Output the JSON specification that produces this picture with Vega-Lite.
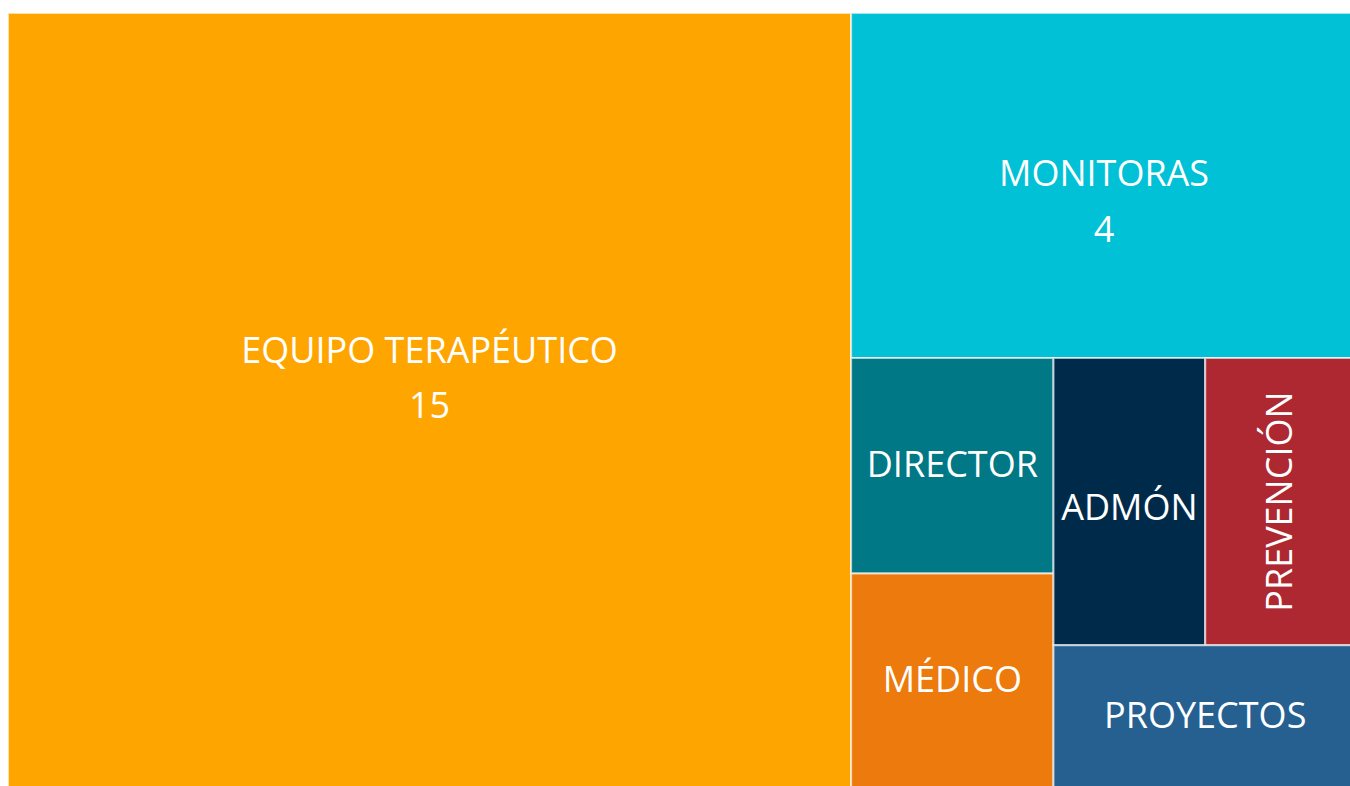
{
  "$schema": "https://vega.github.io/schema/vega-lite/v6.json",
  "width": 1349,
  "height": 776,
  "autosize": "none",
  "padding": {"left": 8, "top": 13, "right": 0, "bottom": 0},
  "background": "white",
  "view": {"stroke": null},
  "config": {"text": {"font": "Open Sans", "fontSize": 36, "color": "#ffffff", "align": "center", "baseline": "middle"}},
  "data": {
    "values": [
      {"name": "EQUIPO TERAPÉUTICO", "value": 15, "p1": "A", "p2": "A", "p3": "A", "p4": "A", "p5": "A"},
      {"name": "MONITORAS", "value": 4, "p1": "B", "p2": "B1", "p3": "B1", "p4": "B1", "p5": "B1"},
      {"name": "DIRECTOR", "value": 1, "p1": "B", "p2": "B2", "p3": "B2a", "p4": "B2a1", "p5": "B2a1"},
      {"name": "MÉDICO", "value": 1, "p1": "B", "p2": "B2", "p3": "B2a", "p4": "B2a2", "p5": "B2a2"},
      {"name": "ADMÓN", "value": 1, "p1": "B", "p2": "B2", "p3": "B2b", "p4": "B2b1", "p5": "B2b1a"},
      {"name": "PREVENCIÓN", "value": 1, "p1": "B", "p2": "B2", "p3": "B2b", "p4": "B2b1", "p5": "B2b1b"},
      {"name": "PROYECTOS", "value": 1, "p1": "B", "p2": "B2", "p3": "B2b", "p4": "B2b2", "p5": "B2b2"}
    ]
  },
  "transform": [
    {"calculate": "'root'", "as": "p0"},
    {"calculate": "0", "as": "x0_0"},
    {"calculate": "1", "as": "x1_0"},
    {"calculate": "0", "as": "y0_0"},
    {"calculate": "1", "as": "y1_0"},

    {"stack": "value", "groupby": ["p0"], "sort": [{"field": "p1", "order": "ascending"}], "as": ["s0_1", "s1_1"]},
    {"joinaggregate": [{"op": "min", "field": "s0_1", "as": "a_1"}, {"op": "max", "field": "s1_1", "as": "b_1"}], "groupby": ["p1"]},
    {"joinaggregate": [{"op": "sum", "field": "value", "as": "t_1"}], "groupby": ["p0"]},
    {"calculate": "datum.x0_0 + datum.a_1 / datum.t_1 * (datum.x1_0 - datum.x0_0)", "as": "x0_1"},
    {"calculate": "datum.x0_0 + datum.b_1 / datum.t_1 * (datum.x1_0 - datum.x0_0)", "as": "x1_1"},
    {"calculate": "datum.y0_0", "as": "y0_1"},
    {"calculate": "datum.y1_0", "as": "y1_1"},

    {"stack": "value", "groupby": ["p1"], "sort": [{"field": "p2", "order": "ascending"}], "as": ["s0_2", "s1_2"]},
    {"joinaggregate": [{"op": "min", "field": "s0_2", "as": "a_2"}, {"op": "max", "field": "s1_2", "as": "b_2"}], "groupby": ["p2"]},
    {"joinaggregate": [{"op": "sum", "field": "value", "as": "t_2"}], "groupby": ["p1"]},
    {"calculate": "datum.y0_1 + datum.a_2 / datum.t_2 * (datum.y1_1 - datum.y0_1)", "as": "y0_2"},
    {"calculate": "datum.y0_1 + datum.b_2 / datum.t_2 * (datum.y1_1 - datum.y0_1)", "as": "y1_2"},
    {"calculate": "datum.x0_1", "as": "x0_2"},
    {"calculate": "datum.x1_1", "as": "x1_2"},

    {"stack": "value", "groupby": ["p2"], "sort": [{"field": "p3", "order": "ascending"}], "as": ["s0_3", "s1_3"]},
    {"joinaggregate": [{"op": "min", "field": "s0_3", "as": "a_3"}, {"op": "max", "field": "s1_3", "as": "b_3"}], "groupby": ["p3"]},
    {"joinaggregate": [{"op": "sum", "field": "value", "as": "t_3"}], "groupby": ["p2"]},
    {"calculate": "datum.x0_2 + datum.a_3 / datum.t_3 * (datum.x1_2 - datum.x0_2)", "as": "x0_3"},
    {"calculate": "datum.x0_2 + datum.b_3 / datum.t_3 * (datum.x1_2 - datum.x0_2)", "as": "x1_3"},
    {"calculate": "datum.y0_2", "as": "y0_3"},
    {"calculate": "datum.y1_2", "as": "y1_3"},

    {"stack": "value", "groupby": ["p3"], "sort": [{"field": "p4", "order": "ascending"}], "as": ["s0_4", "s1_4"]},
    {"joinaggregate": [{"op": "min", "field": "s0_4", "as": "a_4"}, {"op": "max", "field": "s1_4", "as": "b_4"}], "groupby": ["p4"]},
    {"joinaggregate": [{"op": "sum", "field": "value", "as": "t_4"}], "groupby": ["p3"]},
    {"calculate": "datum.y0_3 + datum.a_4 / datum.t_4 * (datum.y1_3 - datum.y0_3)", "as": "y0_4"},
    {"calculate": "datum.y0_3 + datum.b_4 / datum.t_4 * (datum.y1_3 - datum.y0_3)", "as": "y1_4"},
    {"calculate": "datum.x0_3", "as": "x0_4"},
    {"calculate": "datum.x1_3", "as": "x1_4"},

    {"stack": "value", "groupby": ["p4"], "sort": [{"field": "p5", "order": "ascending"}], "as": ["s0_5", "s1_5"]},
    {"joinaggregate": [{"op": "min", "field": "s0_5", "as": "a_5"}, {"op": "max", "field": "s1_5", "as": "b_5"}], "groupby": ["p5"]},
    {"joinaggregate": [{"op": "sum", "field": "value", "as": "t_5"}], "groupby": ["p4"]},
    {"calculate": "datum.x0_4 + datum.a_5 / datum.t_5 * (datum.x1_4 - datum.x0_4)", "as": "x0_5"},
    {"calculate": "datum.x0_4 + datum.b_5 / datum.t_5 * (datum.x1_4 - datum.x0_4)", "as": "x1_5"},
    {"calculate": "datum.y0_4", "as": "y0_5"},
    {"calculate": "datum.y1_4", "as": "y1_5"},

    {"calculate": "(datum.x0_5 + datum.x1_5) / 2", "as": "cx"},
    {"calculate": "(datum.y0_5 + datum.y1_5) / 2", "as": "cy"}
  ],
  "layer": [
    {
      "mark": {"type": "rect", "stroke": "#ffffff", "strokeOpacity": 0.65, "strokeWidth": 2},
      "encoding": {
        "x": {"field": "x0_5", "type": "quantitative", "scale": {"domain": [0, 1], "nice": false, "zero": false}, "axis": null},
        "x2": {"field": "x1_5"},
        "y": {"field": "y0_5", "type": "quantitative", "scale": {"domain": [0, 1], "nice": false, "zero": false, "reverse": true}, "axis": null},
        "y2": {"field": "y1_5"},
        "color": {
          "field": "name", "type": "nominal", "legend": null,
          "scale": {
            "domain": ["EQUIPO TERAPÉUTICO", "MONITORAS", "DIRECTOR", "MÉDICO", "ADMÓN", "PREVENCIÓN", "PROYECTOS"],
            "range": ["#FFA500", "#00C1D6", "#007885", "#EC7A0C", "#002A4A", "#AE2832", "#256090"]
          }
        }
      }
    },
    {
      "transform": [{"filter": {"field": "name", "oneOf": ["DIRECTOR", "MÉDICO", "PROYECTOS"]}}],
      "mark": {"type": "text"},
      "encoding": {
        "x": {"field": "cx", "type": "quantitative"},
        "y": {"field": "cy", "type": "quantitative"},
        "text": {"field": "name"}
      }
    },
    {
      "transform": [{"filter": {"field": "name", "equal": "ADMÓN"}}],
      "mark": {"type": "text", "dy": 7},
      "encoding": {
        "x": {"field": "cx", "type": "quantitative"},
        "y": {"field": "cy", "type": "quantitative"},
        "text": {"field": "name"}
      }
    },
    {
      "transform": [{"filter": {"field": "name", "equal": "PREVENCIÓN"}}],
      "mark": {"type": "text", "angle": 270},
      "encoding": {
        "x": {"field": "cx", "type": "quantitative"},
        "y": {"field": "cy", "type": "quantitative"},
        "text": {"field": "name"}
      }
    },
    {
      "transform": [{"filter": {"field": "name", "equal": "EQUIPO TERAPÉUTICO"}}],
      "mark": {"type": "text", "dy": -49},
      "encoding": {
        "x": {"field": "cx", "type": "quantitative"},
        "y": {"field": "cy", "type": "quantitative"},
        "text": {"field": "name"}
      }
    },
    {
      "transform": [{"filter": {"field": "name", "equal": "EQUIPO TERAPÉUTICO"}}],
      "mark": {"type": "text", "dy": 6},
      "encoding": {
        "x": {"field": "cx", "type": "quantitative"},
        "y": {"field": "cy", "type": "quantitative"},
        "text": {"field": "value", "type": "quantitative"}
      }
    },
    {
      "transform": [{"filter": {"field": "name", "equal": "MONITORAS"}}],
      "mark": {"type": "text", "dy": -10},
      "encoding": {
        "x": {"field": "cx", "type": "quantitative"},
        "y": {"field": "cy", "type": "quantitative"},
        "text": {"field": "name"}
      }
    },
    {
      "transform": [{"filter": {"field": "name", "equal": "MONITORAS"}}],
      "mark": {"type": "text", "dy": 46},
      "encoding": {
        "x": {"field": "cx", "type": "quantitative"},
        "y": {"field": "cy", "type": "quantitative"},
        "text": {"field": "value", "type": "quantitative"}
      }
    }
  ]
}
